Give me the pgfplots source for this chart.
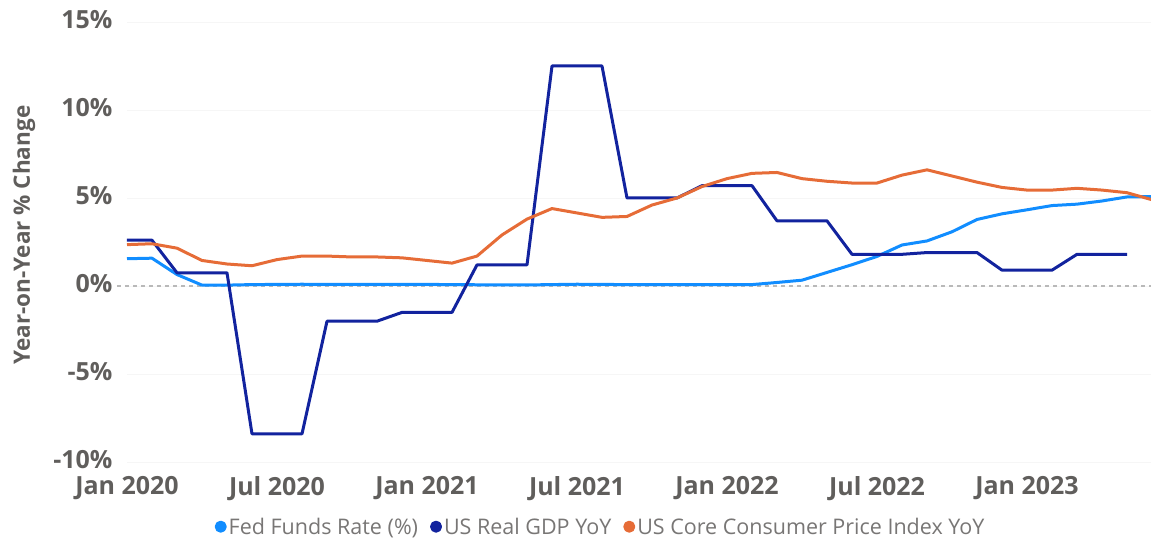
\documentclass[border=0pt]{standalone}
\usepackage{fontspec}
\setmainfont{Open Sans}
\usepackage{pgfplots}
\pgfplotsset{compat=1.18}
\definecolor{fedc}{HTML}{118DFF}
\definecolor{gdpc}{HTML}{12239E}
\definecolor{cpic}{HTML}{E66C37}
\definecolor{txtc}{HTML}{605E5C}
\begin{document}
\begin{tikzpicture}
\begin{axis}[
  at={(127pt,76pt)}, anchor=south west,
  scale only axis, width=1025pt, height=440pt,
  xmin=0, xmax=41, ymin=-10, ymax=15,
  clip=false,
  axis line style={draw=none}, tick style={draw=none},
  xtick={0,6,12,18,24,30,36},
  xticklabels={Jan 2020,Jul 2020,Jan 2021,Jul 2021,Jan 2022,Jul 2022,Jan 2023},
  ytick={-10,-5,0,5,10,15},
  yticklabels={-10\%,-5\%,0\%,5\%,10\%,15\%},
  ticklabel style={font=\fontsize{25}{25}\selectfont\bfseries, text=txtc},
  yticklabel style={xshift=-11pt, yshift=2pt},
  xticklabel style={yshift=-11pt},
  ymajorgrids, grid style={gray!7, line width=0.8pt},
  ylabel={Year-on-Year \% Change},
  every axis y label/.style={at={(axis description cs:-0.1005,0.516)}, rotate=90, anchor=center,
     font=\fontsize{22.5}{22.5}\selectfont\bfseries, text=txtc},
  legend columns=3,
  legend style={at={(axis description cs:0.462,-0.147)}, anchor=center, draw=none, fill=none,
     font=\fontsize{21.5}{21.5}\selectfont, text=txtc!85,
     /tikz/every even column/.append style={column sep=10pt}},
  legend image code/.code={\fill[#1] (4pt,0pt) circle (4.5pt);},
  every axis plot/.append style={line width=3pt, line join=round},
]
\draw[gray!55, line width=1.5pt, dash pattern=on 4pt off 4pt] (axis cs:-0.4,0) -- (axis cs:41,0);
\addplot[color=fedc, mark=none] coordinates {
(0,1.55) (1,1.58) (2,0.65) (3,0.05) (4,0.05) (5,0.08) (6,0.09) (7,0.10) (8,0.09) (9,0.09) (10,0.09) (11,0.09)
(12,0.09) (13,0.08) (14,0.07) (15,0.07) (16,0.06) (17,0.08) (18,0.10) (19,0.09) (20,0.08) (21,0.08) (22,0.08) (23,0.08)
(24,0.08) (25,0.08) (26,0.20) (27,0.33) (28,0.77) (29,1.21) (30,1.68) (31,2.33) (32,2.56) (33,3.08) (34,3.78) (35,4.10)
(36,4.33) (37,4.57) (38,4.65) (39,4.83) (40,5.06) (41,5.08)
};
\addlegendentry{Fed Funds Rate (\%)}
\addplot[color=gdpc, mark=none] coordinates {
(0,2.6) (1,2.6) (2,0.75) (3,0.75) (4,0.75) (5,-8.4) (6,-8.4) (7,-8.4) (8,-2.0) (9,-2.0) (10,-2.0) (11,-1.5)
(12,-1.5) (13,-1.5) (14,1.2) (15,1.2) (16,1.2) (17,12.5) (18,12.5) (19,12.5) (20,5.0) (21,5.0) (22,5.0) (23,5.7)
(24,5.7) (25,5.7) (26,3.7) (27,3.7) (28,3.7) (29,1.8) (30,1.8) (31,1.8) (32,1.9) (33,1.9) (34,1.9) (35,0.9)
(36,0.9) (37,0.9) (38,1.8) (39,1.8) (40,1.8)
};
\addlegendentry{US Real GDP YoY}
\addplot[color=cpic, mark=none] coordinates {
(0,2.35) (1,2.4) (2,2.15) (3,1.45) (4,1.25) (5,1.15) (6,1.5) (7,1.7) (8,1.7) (9,1.65) (10,1.65) (11,1.6)
(12,1.45) (13,1.3) (14,1.7) (15,2.9) (16,3.8) (17,4.4) (18,4.15) (19,3.9) (20,3.95) (21,4.6) (22,5.0) (23,5.65)
(24,6.1) (25,6.4) (26,6.45) (27,6.1) (28,5.95) (29,5.85) (30,5.85) (31,6.3) (32,6.6) (33,6.25) (34,5.9) (35,5.6)
(36,5.45) (37,5.45) (38,5.55) (39,5.45) (40,5.3) (41,4.9)
};
\addlegendentry{US Core Consumer Price Index YoY}
\end{axis}
\pgfresetboundingbox
\path[use as bounding box] (0,0) rectangle (1151pt,538pt);
\end{tikzpicture}
\end{document}
